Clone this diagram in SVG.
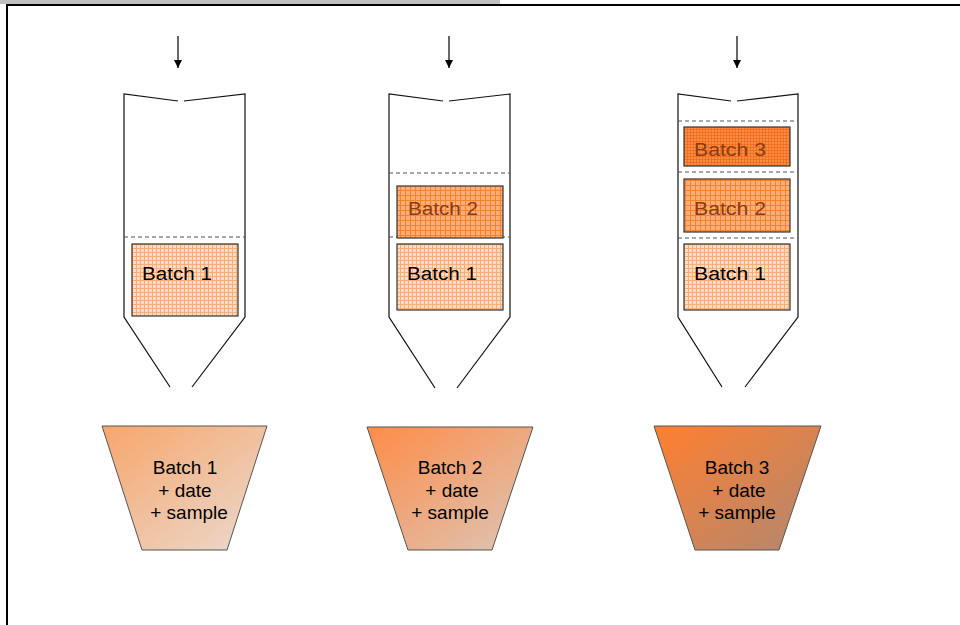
<svg xmlns="http://www.w3.org/2000/svg" width="960" height="625" viewBox="0 0 960 625">
<style>
.wall{fill:none;stroke:#111;stroke-width:1.2}
.dash{fill:none;stroke:#555;stroke-width:1.2;stroke-dasharray:4 3}
.arr{fill:none;stroke:#000;stroke-width:1.2}
.batch{stroke:#333;stroke-width:1.2}
.t{font-family:"Liberation Sans",Arial,sans-serif;font-size:18px}
.tl{font-size:19px}
.tb{fill:#000}
.td{fill:#8a3c10}
.bin{stroke:#555;stroke-width:1}
</style>
<defs>
<marker id="ah" viewBox="0 0 10 10" refX="10" refY="5" markerWidth="9" markerHeight="8" markerUnits="userSpaceOnUse" orient="auto">
<path d="M0,0 L10,5 L0,10 z" fill="#000"/>
</marker>
<pattern id="p1" width="4" height="4" patternUnits="userSpaceOnUse">
<rect width="4" height="4" fill="#fddcc2"/>
<path d="M0,0.5 H4 M0.5,0 V4" stroke="#f8ae7a" stroke-width="1"/>
</pattern>
<pattern id="p2" width="5" height="5" patternUnits="userSpaceOnUse">
<rect width="5" height="5" fill="#ffac76"/>
<path d="M0,0.5 H5 M0.5,0 V5" stroke="#f5822e" stroke-width="1"/>
</pattern>
<pattern id="p3" width="3" height="3" patternUnits="userSpaceOnUse">
<rect width="3" height="3" fill="#ff8c44"/>
<path d="M0,0.5 H3 M0.5,0 V3" stroke="#f06a18" stroke-width="0.8"/>
</pattern>
<linearGradient id="g1" x1="0" y1="0" x2="1" y2="1">
<stop offset="0" stop-color="#f7a66c"/>
<stop offset="1" stop-color="#eadad0"/>
</linearGradient>
<linearGradient id="g2" x1="0" y1="0" x2="1" y2="1">
<stop offset="0" stop-color="#fe8c48"/>
<stop offset="1" stop-color="#dcc6b8"/>
</linearGradient>
<linearGradient id="g3" x1="0" y1="0" x2="1" y2="1">
<stop offset="0" stop-color="#ff7f30"/>
<stop offset="1" stop-color="#b08872"/>
</linearGradient>
</defs>
<rect width="960" height="625" fill="#fff"/>
<g id="frame">
<rect x="0" y="0" width="500" height="4" fill="#c0c0c0"/>
<path d="M7,625 V5 H960" fill="none" stroke="#000" stroke-width="2"/>
</g>
<g id="connectors">
<line class="arr" x1="178" y1="36" x2="178" y2="68" marker-end="url(#ah)"/>
<line class="arr" x1="449" y1="36" x2="449" y2="68" marker-end="url(#ah)"/>
<line class="arr" x1="737" y1="36" x2="737" y2="68" marker-end="url(#ah)"/>
</g>
<g id="silo1">
<path class="wall" d="M178,101 L124,94 V317 L170,387 M184,101 L245,94 V317 L192,387"/>
<line class="dash" x1="124" y1="237" x2="245" y2="237"/>
<rect class="batch" x="132" y="244" width="106" height="72" fill="url(#p1)"/>
<text class="t tb" x="142" y="280" textLength="70" lengthAdjust="spacingAndGlyphs">Batch 1</text>
</g>
<g id="silo2">
<path class="wall" d="M443,101 L389,94 V317 L435,388 M449,101 L510,94 V317 L457,388"/>
<line class="dash" x1="389" y1="173" x2="510" y2="173"/>
<line class="dash" x1="389" y1="237" x2="510" y2="237"/>
<rect class="batch" x="397" y="186" width="106" height="52" fill="url(#p2)"/>
<text class="t td" x="408" y="215" textLength="70" lengthAdjust="spacingAndGlyphs">Batch 2</text>
<rect class="batch" x="397" y="244" width="106" height="66" fill="url(#p1)"/>
<text class="t tb" x="407" y="280" textLength="70" lengthAdjust="spacingAndGlyphs">Batch 1</text>
</g>
<g id="silo3">
<path class="wall" d="M731,101 L678,94 V317 L722,387 M737,101 L798,94 V317 L745,387"/>
<line class="dash" x1="678" y1="121" x2="798" y2="121"/>
<line class="dash" x1="678" y1="172" x2="798" y2="172"/>
<line class="dash" x1="678" y1="238" x2="798" y2="238"/>
<rect class="batch" x="684" y="127" width="106" height="39" fill="url(#p3)"/>
<text class="t td" x="694" y="156" textLength="72" lengthAdjust="spacingAndGlyphs">Batch 3</text>
<rect class="batch" x="684" y="179" width="106" height="53" fill="url(#p2)"/>
<text class="t td" x="694" y="215" textLength="72" lengthAdjust="spacingAndGlyphs">Batch 2</text>
<rect class="batch" x="684" y="244" width="106" height="66" fill="url(#p1)"/>
<text class="t tb" x="694" y="280" textLength="72" lengthAdjust="spacingAndGlyphs">Batch 1</text>
</g>
<g id="bin1">
<path class="bin" d="M102,426 H267 L227,550 H142 Z" fill="url(#g1)"/>
<text class="t tl tb" text-anchor="middle"><tspan x="185" y="474">Batch 1</tspan><tspan x="185" y="497">+ date</tspan><tspan x="189" y="519">+ sample</tspan></text>
</g>
<g id="bin2">
<path class="bin" d="M367,427 H533 L492,550 H408 Z" fill="url(#g2)"/>
<text class="t tl tb" text-anchor="middle"><tspan x="450" y="474">Batch 2</tspan><tspan x="452" y="497">+ date</tspan><tspan x="450" y="519">+ sample</tspan></text>
</g>
<g id="bin3">
<path class="bin" d="M654,426 H821 L779,550 H695 Z" fill="url(#g3)"/>
<text class="t tl tb" text-anchor="middle"><tspan x="737" y="474">Batch 3</tspan><tspan x="739" y="497">+ date</tspan><tspan x="737" y="519">+ sample</tspan></text>
</g>
</svg>
